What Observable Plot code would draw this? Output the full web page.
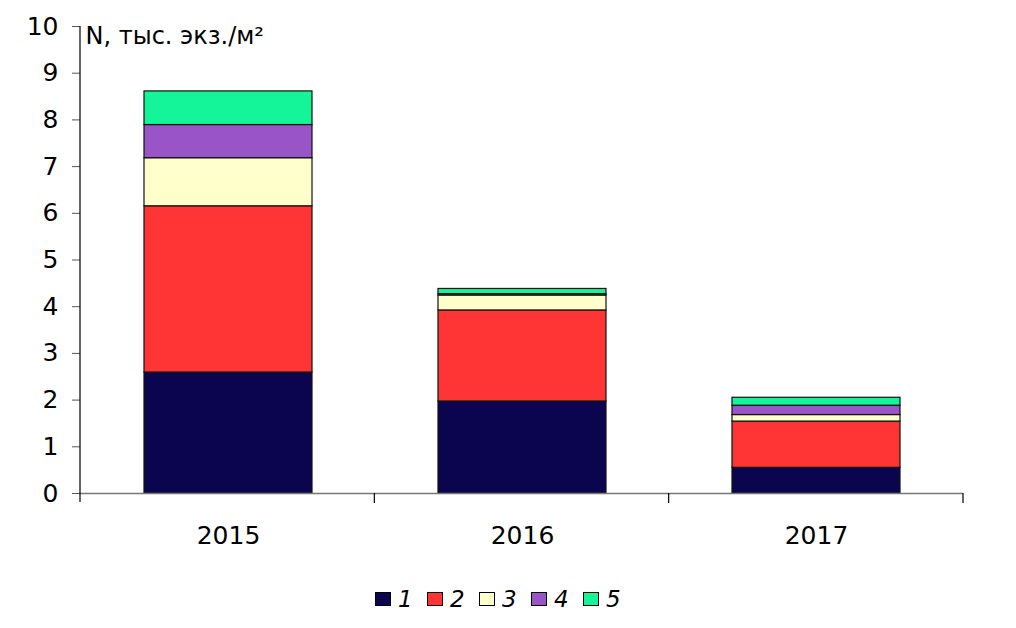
<!DOCTYPE html>
<html>
<head>
<meta charset="utf-8">
<script src="https://cdn.jsdelivr.net/npm/d3@7"></script>
<script src="https://cdn.jsdelivr.net/npm/@observablehq/plot@0.6"></script>
<style>
  body { margin: 0; background: #fff; font-family: "DejaVu Sans", sans-serif; }
  #wrap { position: relative; width: 1016px; height: 628px; }
  #legend { position: absolute; top: 588px; left: 375px; display: flex; align-items: center; height: 22px; }
  .item { display: flex; align-items: center; width: 52px; }
  .sw { width: 14px; height: 12px; border: 1px solid #000; margin-right: 7px; box-sizing: content-box; }
  .lb { font-style: italic; font-size: 23px; line-height: 22px; color: #000; }
</style>
</head>
<body>
<div id="wrap"></div>
<script>
const years = ["2015", "2016", "2017"];
const groups = ["1", "2", "3", "4", "5"];
const g1 = [2.59, 1.97, 0.55];
const g2 = [3.56, 1.95, 0.99];
const g3 = [1.03, 0.32, 0.14];
const g4 = [0.71, 0.03, 0.20];
const g5 = [0.72, 0.11, 0.17];
const colors = ["#0b0550", "#ff3535", "#ffffcc", "#9955c8", "#14f59a"];
const yTicks = [0, 1, 2, 3, 4, 5, 6, 7, 8, 9, 10];
const yTitle = "N, тыс. экз./м²";

const series = [g1, g2, g3, g4, g5];
const data = [];
groups.forEach((g, gi) => years.forEach((yr, i) => data.push({year: yr, group: g, value: series[gi][i]})));

const plot = Plot.plot({
  width: 1016,
  height: 570,
  marginLeft: 80,
  marginRight: 53,
  marginTop: 26,
  marginBottom: 77,
  style: {fontFamily: "DejaVu Sans, sans-serif", fontSize: "25px", color: "#000", background: "#fff"},
  x: {domain: years, paddingInner: 0.43, paddingOuter: 0.215, axis: null, label: null},
  y: {domain: [0, 10], axis: null, label: null},
  color: {domain: groups, range: colors},
  marks: [
    Plot.barY(data, {x: "year", y: "value", fill: "group", stroke: "#111", strokeWidth: 1.2}),
    Plot.ruleY([0], {stroke: "#777", strokeWidth: 1.5}),
    Plot.axisY({ticks: yTicks, tickSize: 8, tickPadding: 14, fontSize: 25, stroke: "#555", fill: "#000", label: null}),
    Plot.axisX({tickSize: 0, tickPadding: 33, fontSize: 25, fill: "#000", label: null}),
    Plot.text([yTitle], {frameAnchor: "top-left", dx: 5, fontSize: 24, textAnchor: "start", fill: "#000", letterSpacing: "0.8px"})
  ]
});

const xs = plot.scale("x");
const ys = plot.scale("y");
const y0 = ys.apply(0), y10 = ys.apply(10);
const r0 = xs.range[0], r1 = xs.range[1];
const svg = d3.select(plot);
const g = svg.append("g").attr("stroke", "#000").attr("stroke-width", 1.2);
g.append("line").attr("x1", r0).attr("x2", r0).attr("y1", y10).attr("y2", y0 + 9);
for (let i = 1; i <= years.length; i++) {
  const bx = r0 + i * (r1 - r0) / years.length;
  g.append("line").attr("x1", bx).attr("x2", bx).attr("y1", y0).attr("y2", y0 + 10);
}

const wrap = document.getElementById("wrap");
wrap.appendChild(plot);
const legend = document.createElement("div");
legend.id = "legend";
groups.forEach((gname, i) => {
  const it = document.createElement("div");
  it.className = "item";
  const sw = document.createElement("div");
  sw.className = "sw";
  sw.style.background = colors[i];
  const lb = document.createElement("span");
  lb.className = "lb";
  lb.textContent = gname;
  it.appendChild(sw);
  it.appendChild(lb);
  legend.appendChild(it);
});
wrap.appendChild(legend);
</script>
</body>
</html>
